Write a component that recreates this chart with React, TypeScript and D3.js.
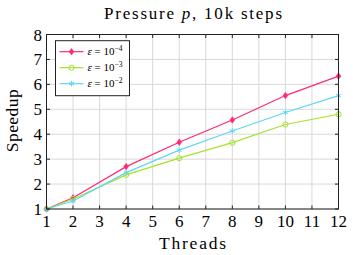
import { scaleLinear, line } from "d3";

const threads = [1, 2, 4, 6, 8, 10, 12];
const eps4 = [1, 1.45, 2.7, 3.68, 4.57, 5.55, 6.33];
const eps3 = [1, 1.4, 2.37, 3.04, 3.66, 4.39, 4.8];
const eps2 = [1, 1.32, 2.46, 3.36, 4.13, 4.87, 5.55];
const xTicks = [1, 2, 3, 4, 5, 6, 7, 8, 9, 10, 11, 12];
const yTicks = [1, 2, 3, 4, 5, 6, 7, 8];
const seriesExp = ["−4", "−3", "−2"];

const PINK = "#ff2a72";
const GREEN = "#a6e22e";
const CYAN = "#5fd7f2";
const FONT = "'Liberation Serif', 'DejaVu Serif', serif";

function Marker({ kind, x, y, color }: { kind: string; x: number; y: number; color: string }) {
  if (kind === "diamond") {
    return <path d={`M${x},${y - 3.2} L${x + 2.4},${y} L${x},${y + 3.2} L${x - 2.4},${y} Z`} fill={color} stroke={color} strokeWidth={0.6} />;
  }
  if (kind === "circle") {
    return <circle cx={x} cy={y} r={2.6} fill="none" stroke={color} strokeWidth={1} />;
  }
  const arms = [0, 60, 120];
  return (
    <g stroke={color} strokeWidth={1}>
      {arms.map((a) => {
        const r = (a * Math.PI) / 180;
        const dx = Math.sin(r) * 2.8;
        const dy = Math.cos(r) * 2.8;
        return <line key={a} x1={x - dx} y1={y - dy} x2={x + dx} y2={y + dy} />;
      })}
    </g>
  );
}

export default function App() {
  const width = 353;
  const height = 255;
  const margin = { top: 34.5, right: 14.5, bottom: 46, left: 46.5 };
  const innerW = width - margin.left - margin.right;
  const innerH = height - margin.top - margin.bottom;

  const x = scaleLinear().domain([1, 12]).range([0, innerW]);
  const y = scaleLinear().domain([1, 8]).range([innerH, 0]);

  const series = [
    { values: eps4, color: PINK, kind: "diamond" },
    { values: eps3, color: GREEN, kind: "circle" },
    { values: eps2, color: CYAN, kind: "star" },
  ];

  const path = line<number>()
    .x((_, i) => x(threads[i]))
    .y((d) => y(d));

  return (
    <svg
      width={width}
      height={height}
      style={{ position: "absolute", left: 0, top: 0, background: "#fff" }}
      fontFamily={FONT}
    >
      <text x={193} y={19} textAnchor="middle" fontSize={17} fill="#000" textLength={178} lengthAdjust="spacing">
        Pressure <tspan fontStyle="italic">p</tspan>, 10k steps
      </text>
      <g transform={`translate(${margin.left}, ${margin.top})`}>
        {xTicks.map((t) => (
          <line key={`gx${t}`} x1={x(t)} x2={x(t)} y1={0} y2={innerH} stroke="#d9d9d9" strokeWidth={1} />
        ))}
        {yTicks.map((t) => (
          <line key={`gy${t}`} x1={0} x2={innerW} y1={y(t)} y2={y(t)} stroke="#d9d9d9" strokeWidth={1} />
        ))}
        {series.map((s) => (
          <g key={s.color}>
            <path d={path(s.values) ?? ""} fill="none" stroke={s.color} strokeWidth={1.2} />
            {s.values.map((v, i) => (
              <Marker key={i} kind={s.kind} x={x(threads[i])} y={y(v)} color={s.color} />
            ))}
          </g>
        ))}
        <rect x={0} y={0} width={innerW} height={innerH} fill="none" stroke="#222" strokeWidth={1} />
        {xTicks.map((t) => (
          <g key={`tx${t}`}>
            <line x1={x(t)} x2={x(t)} y1={innerH} y2={innerH - 3.5} stroke="#222" />
            <line x1={x(t)} x2={x(t)} y1={0} y2={3.5} stroke="#222" />
            <text x={x(t)} y={innerH + 17.5} textAnchor="middle" fontSize={17} fill="#000">
              {t}
            </text>
          </g>
        ))}
        {yTicks.map((t) => (
          <g key={`ty${t}`}>
            <line x1={0} x2={3.5} y1={y(t)} y2={y(t)} stroke="#222" />
            <line x1={innerW} x2={innerW - 3.5} y1={y(t)} y2={y(t)} stroke="#222" />
            <text x={-4.5} y={y(t) + 6} textAnchor="end" fontSize={17} fill="#000">
              {t}
            </text>
          </g>
        ))}
        <text x={innerW / 2} y={innerH + 40} textAnchor="middle" fontSize={17.5} fill="#000" textLength={67} lengthAdjust="spacing">
          Threads
        </text>
        <text
          transform={`translate(${-29}, ${innerH / 2 - 1}) rotate(-90)`}
          textAnchor="middle"
          fontSize={17.5}
          fill="#000"
          textLength={63}
          lengthAdjust="spacing"
        >
          Speedup
        </text>
        <g transform={`translate(${9}, ${6.2})`}>
          <rect x={0} y={0} width={74} height={55} fill="#fff" stroke="#222" strokeWidth={1} />
          {series.map((s, i) => {
            const ly = 11 + i * 16;
            return (
              <g key={`lg${i}`}>
                <line x1={4} x2={28} y1={ly} y2={ly} stroke={s.color} strokeWidth={1.2} />
                <Marker kind={s.kind} x={16} y={ly} color={s.color} />
                <text x={32} y={ly + 3.5} fontSize={11} fill="#000">
                  <tspan fontStyle="italic">ε</tspan> = 10
                  <tspan dy={-4.5} fontSize={7.5}>{seriesExp[i]}</tspan>
                </text>
              </g>
            );
          })}
        </g>
      </g>
    </svg>
  );
}
